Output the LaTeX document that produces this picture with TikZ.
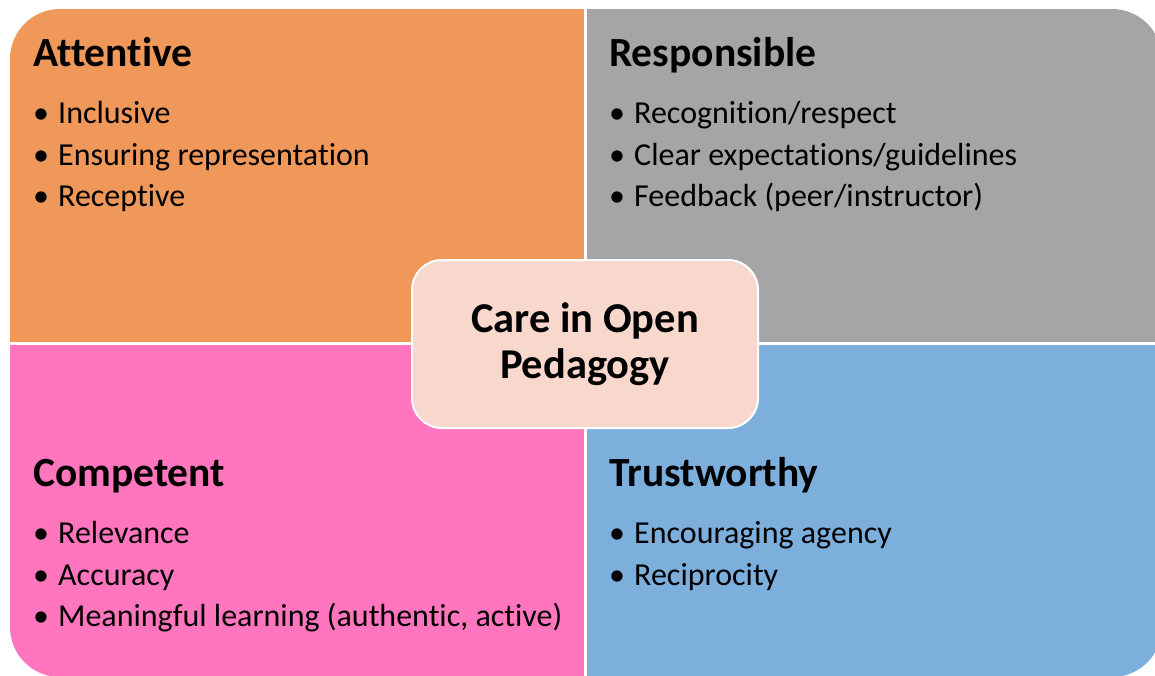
\documentclass[tikz,border=0pt]{standalone}
\usepackage{fontspec}
\setmainfont[Ligatures={NoCommon,NoRequired,NoContextual}]{Carlito}
\definecolor{qorange}{HTML}{F09859}
\definecolor{qgray}{HTML}{A5A5A5}
\definecolor{qpink}{HTML}{FF75BE}
\definecolor{qblue}{HTML}{7DAFDD}
\definecolor{qcenter}{HTML}{F8D7CC}
\tikzset{
  heading/.style={anchor=base west, inner sep=0pt, font=\fontsize{41.5}{46}\selectfont\bfseries},
  item/.style={anchor=base west, inner sep=0pt, font=\fontsize{32}{40}\selectfont},
  centerbox/.style={draw=white, line width=2pt, fill=qcenter, rounded corners=30pt,
    minimum width=346pt, minimum height=168pt, align=center, inner sep=0pt,
    font=\fontsize{42.5}{46}\selectfont\bfseries}
}
\newcommand{\bul}{\makebox[25pt][l]{•}}
\begin{document}
\begin{tikzpicture}[x=1pt,y=-1pt]
\useasboundingbox (0,0) rectangle (1155,675);
\begin{scope}
  \clip[rounded corners=50pt] (10,9) rectangle (1162,677);
  \fill[qorange] (10,9) rectangle (585,343);
  \fill[qgray] (585,9) rectangle (1162,343);
  \fill[qpink] (10,343) rectangle (585,677);
  \fill[qblue] (585,343) rectangle (1162,677);
\end{scope}
\draw[white, line width=3pt] (585,0) -- (585,680);
\draw[white, line width=3pt] (0,343) -- (1160,343);
% Attentive
\node[heading] (att) at (33,66) {Attentive};
\node[item] (att1) at (33,123) {\bul Inclusive};
\node[item] (att2) at (33,165) {\bul Ensuring representation};
\node[item] (att3) at (33,206) {\bul Receptive};
% Responsible
\node[heading] (res) at (609,66) {Responsible};
\node[item] (res1) at (609,123) {\bul Recognition/respect};
\node[item] (res2) at (609,165) {\bul Clear expectations/guidelines};
\node[item] (res3) at (609,206) {\bul Feedback (peer/instructor)};
% Competent
\node[heading] (com) at (33,486) {Competent};
\node[item] (com1) at (33,543) {\bul Relevance};
\node[item] (com2) at (33,585) {\bul Accuracy};
\node[item] (com3) at (33,626) {\bul Meaningful learning (authentic, active)};
% Trustworthy
\node[heading] (tru) at (609,486) {Trustworthy};
\node[item] (tru1) at (609,543) {\bul Encouraging agency};
\node[item] (tru2) at (609,585) {\bul Reciprocity};
% Center
\node[centerbox] (care) at (585,344) {Care in Open\\Pedagogy};
\end{tikzpicture}
\end{document}
